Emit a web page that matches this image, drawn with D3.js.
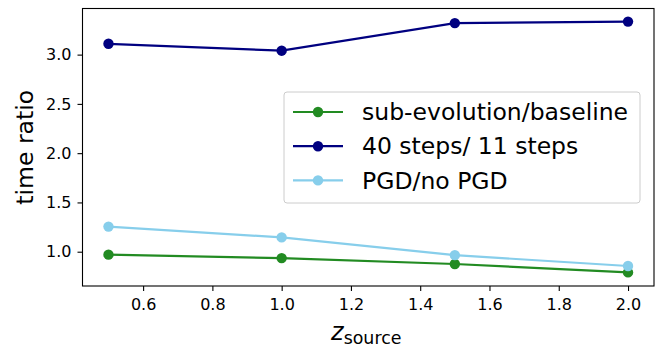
<!DOCTYPE html>
<html>
<head>
<meta charset="utf-8">
<script src="https://cdn.jsdelivr.net/npm/d3@7"></script>
<style>
  body { margin: 0; background: #fff; }
  text { font-family: "DejaVu Sans", sans-serif; fill: #000; }
</style>
</head>
<body>
<script>
// data
let zSource = [0.5, 1.0, 1.5, 2.0];
let subEvolution = [0.97, 0.935, 0.875, 0.79];
let steps40vs11 = [3.11, 3.04, 3.32, 3.335];
let pgdRatio = [1.255, 1.145, 0.965, 0.855];
let xTicks = [0.6, 0.8, 1.0, 1.2, 1.4, 1.6, 1.8, 2.0];
let yTicks = [1.0, 1.5, 2.0, 2.5, 3.0];
let seriesNames = ["sub-evolution/baseline", "40 steps/ 11 steps", "PGD/no PGD"];
let seriesColors = ["#228B22", "#000080", "#87CEEB"];

let width = 666;
let height = 347;
let svg = d3.select("body").append("svg")
            .attr("width", width)
            .attr("height", height);

let plotLeft = 82.5, plotRight = 654, plotTop = 8.5, plotBottom = 286;

let x = d3.scaleLinear().domain([0.425, 2.075]).range([plotLeft, plotRight]);
let y = d3.scaleLinear().domain([0.652, 3.468]).range([plotBottom, plotTop]);

let series = [subEvolution, steps40vs11, pgdRatio].map(function(vals, i) {
  return { name: seriesNames[i], color: seriesColors[i],
           points: vals.map(function(v, j) { return [zSource[j], v]; }) };
});

// axes
svg.append("g")
   .attr("transform", "translate(0," + plotBottom + ")")
   .call(d3.axisBottom(x).tickValues(xTicks).tickFormat(d3.format(".1f")).tickSizeOuter(0).tickSize(5).tickPadding(8))
   .call(function(g) { g.select(".domain").remove(); })
   .selectAll("text").style("font-size", "16px");

svg.append("g")
   .attr("transform", "translate(" + plotLeft + ",0)")
   .call(d3.axisLeft(y).tickValues(yTicks).tickFormat(d3.format(".1f")).tickSizeOuter(0).tickSize(5).tickPadding(6))
   .call(function(g) { g.select(".domain").remove(); })
   .selectAll("text").style("font-size", "16px");

svg.selectAll(".tick line").attr("stroke", "#000").attr("stroke-width", 1.1);

// lines and markers
let line = d3.line().x(function(d) { return x(d[0]); }).y(function(d) { return y(d[1]); });

let groups = svg.selectAll(".series").data(series).enter().append("g").attr("class", "series");
groups.append("path")
      .attr("d", function(d) { return line(d.points); })
      .attr("fill", "none")
      .attr("stroke", function(d) { return d.color; })
      .attr("stroke-width", 2.2);
groups.selectAll("circle")
      .data(function(d) { return d.points.map(function(p) { return { p: p, color: d.color }; }); })
      .enter().append("circle")
      .attr("cx", function(d) { return x(d.p[0]); })
      .attr("cy", function(d) { return y(d.p[1]); })
      .attr("r", 5.2)
      .attr("fill", function(d) { return d.color; });

// frame
svg.append("rect")
   .attr("x", plotLeft).attr("y", plotTop)
   .attr("width", plotRight - plotLeft).attr("height", plotBottom - plotTop)
   .attr("fill", "none").attr("stroke", "#000").attr("stroke-width", 1.1);

// axis labels
svg.append("text")
   .attr("transform", "translate(33," + ((plotTop + plotBottom) / 2) + ") rotate(-90)")
   .attr("text-anchor", "middle")
   .style("font-size", "23.5px")
   .text("time ratio");

let xl = svg.append("text")
   .attr("x", (plotLeft + plotRight) / 2 - 2)
   .attr("y", 339.5)
   .attr("text-anchor", "middle")
   .style("font-size", "24px");
xl.append("tspan").style("font-style", "italic").text("z");
xl.append("tspan").attr("dy", 4.5).style("font-size", "17.4px").text("source");

// legend
let legend = svg.append("g").attr("transform", "translate(284,92)");
legend.append("rect")
      .attr("width", 356).attr("height", 111).attr("rx", 3)
      .attr("fill", "#fff").attr("fill-opacity", 0.8)
      .attr("stroke", "#ccc").attr("stroke-width", 1);
let rows = legend.selectAll(".row").data(series).enter().append("g")
      .attr("transform", function(d, i) { return "translate(0," + (20 + i * 34.2) + ")"; });
rows.append("line")
    .attr("x1", 9).attr("x2", 59)
    .attr("stroke", function(d) { return d.color; })
    .attr("stroke-width", 2.2);
rows.append("circle")
    .attr("cx", 34).attr("r", 5.2)
    .attr("fill", function(d) { return d.color; });
rows.append("text")
    .attr("x", 78)
    .attr("dy", "0.35em")
    .style("font-size", "23.5px")
    .text(function(d) { return d.name; });
</script>
</body>
</html>
